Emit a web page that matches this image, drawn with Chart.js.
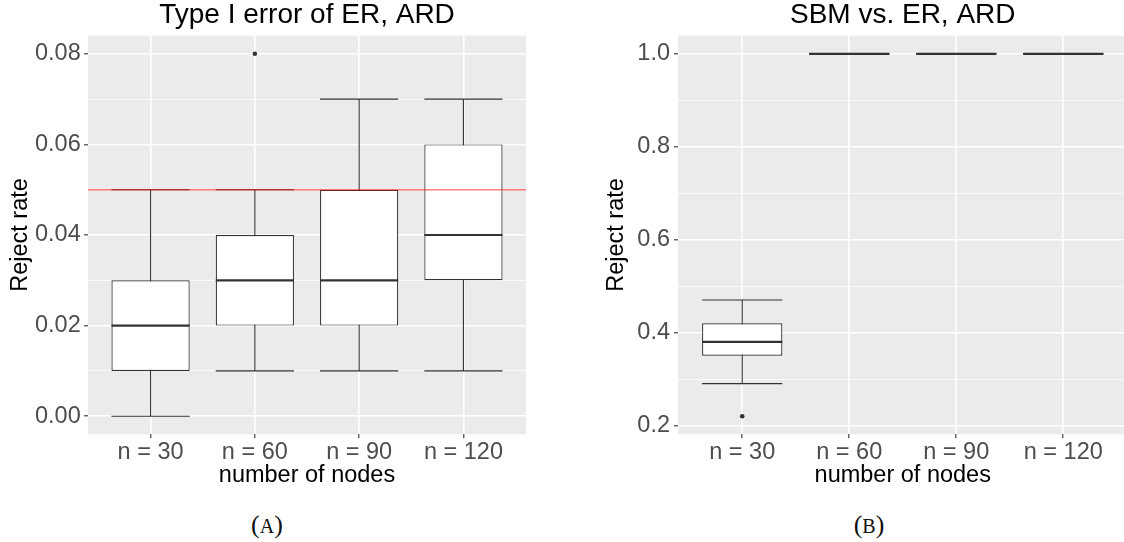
<!DOCTYPE html>
<html>
<head>
<meta charset="utf-8">
<script src="https://cdn.jsdelivr.net/npm/chart.js@4"></script>
<style>
  html, body { margin: 0; padding: 0; background: #fff; overflow: hidden; width: 1124px; height: 542px; }
  canvas { position: absolute; top: 0; }
  .cap { position: absolute; top: 512px; line-height: 25px; font-family: "Liberation Serif", "DejaVu Serif", serif; font-size: 26px; color: #111; transform: translateX(-50%); white-space: nowrap; }
  .cap span { font-size: 20px; }
</style>
</head>
<body>
<canvas id="chartA" width="560" height="500" style="left:0px"></canvas>
<canvas id="chartB" width="560" height="500" style="left:590px"></canvas>
<div class="cap" style="left:267px">(<span>A</span>)</div>
<div class="cap" style="left:869px">(<span>B</span>)</div>
<script>
// ---- shared categories ----
const nodeLabels = ["n = 30", "n = 60", "n = 90", "n = 120"];
const nodePos = [1, 2, 3, 4];

// ---- panel A: Type I error of ER, ARD ----
const typeILow = [0.00, 0.01, 0.01, 0.01];
const typeIQ1 = [0.01, 0.02, 0.02, 0.03];
const typeIMedian = [0.02, 0.03, 0.03, 0.04];
const typeIQ3 = [0.03, 0.04, 0.05, 0.06];
const typeIHigh = [0.05, 0.05, 0.07, 0.07];
const typeIOutlierGroup = [2];
const typeIOutlierValue = [0.08];
const typeILevel = 0.05;
const typeIMajorTicks = [0.00, 0.02, 0.04, 0.06, 0.08];
const typeIMinorTicks = [0.01, 0.03, 0.05, 0.07];
const typeITickLabels = ["0.00", "0.02", "0.04", "0.06", "0.08"];

// ---- panel B: SBM vs. ER, ARD ----
const powerLow = [0.29, 1.00, 1.00, 1.00];
const powerQ1 = [0.35, 1.00, 1.00, 1.00];
const powerMedian = [0.38, 1.00, 1.00, 1.00];
const powerQ3 = [0.42, 1.00, 1.00, 1.00];
const powerHigh = [0.47, 1.00, 1.00, 1.00];
const powerOutlierGroup = [1];
const powerOutlierValue = [0.22];
const powerMajorTicks = [0.2, 0.4, 0.6, 0.8, 1.0];
const powerMinorTicks = [0.3, 0.5, 0.7, 0.9];
const powerTickLabels = ["0.2", "0.4", "0.6", "0.8", "1.0"];

const sans = "'Liberation Sans', Arial, sans-serif";
const lineCol = "#333333";

// whiskers, medians, panel background and reference line
function boxLayer(stats) {
  return {
    id: "boxLayer",
    beforeDraw(chart) {
      const a = chart.chartArea, ctx = chart.ctx;
      ctx.save();
      ctx.fillStyle = "#EBEBEB";
      ctx.fillRect(a.left, a.top, a.right - a.left, a.bottom - a.top);
      ctx.restore();
    },
    beforeDatasetsDraw(chart) {
      const y = chart.scales.y, ctx = chart.ctx;
      const bars = chart.getDatasetMeta(0).data;
      ctx.save();
      ctx.strokeStyle = lineCol;
      ctx.lineWidth = 1.1;
      bars.forEach((bar, i) => {
        const lo = y.getPixelForValue(stats.low[i]);
        const hi = y.getPixelForValue(stats.high[i]);
        const half = bar.width / 2;
        ctx.beginPath();
        ctx.moveTo(bar.x, lo); ctx.lineTo(bar.x, hi);
        ctx.moveTo(bar.x - half, lo); ctx.lineTo(bar.x + half, lo);
        ctx.moveTo(bar.x - half, hi); ctx.lineTo(bar.x + half, hi);
        ctx.stroke();
      });
      ctx.restore();
    },
    afterDatasetsDraw(chart) {
      const y = chart.scales.y, ctx = chart.ctx, a = chart.chartArea;
      const bars = chart.getDatasetMeta(0).data;
      ctx.save();
      ctx.strokeStyle = lineCol;
      ctx.lineWidth = 2.2;
      bars.forEach((bar, i) => {
        const m = y.getPixelForValue(stats.median[i]);
        ctx.beginPath();
        ctx.moveTo(bar.x - bar.width / 2, m);
        ctx.lineTo(bar.x + bar.width / 2, m);
        ctx.stroke();
      });
      if (stats.ref !== null) {
        const r = y.getPixelForValue(stats.ref);
        ctx.strokeStyle = "rgba(255,0,0,0.5)";
        ctx.lineWidth = 1.4;
        ctx.beginPath();
        ctx.moveTo(a.left, r);
        ctx.lineTo(a.right, r);
        ctx.stroke();
      }
      ctx.restore();
    }
  };
}

function makeChart(id, s) {
  const all = s.low.concat(s.high, s.outVal);
  const lo = Math.min(...all), hi = Math.max(...all);
  const pad = (hi - lo) * 0.05;
  const yTicks = s.major.concat(s.minor).sort((a, b) => a - b);
  const isMajor = v => s.major.indexOf(v) >= 0;

  new Chart(document.getElementById(id), {
    type: "bar",
    data: {
      datasets: [
        {
          type: "bar",
          data: nodePos.map((p, i) => ({ x: p, y: [s.q1[i], s.q3[i]] })),
          backgroundColor: "#ffffff",
          borderColor: lineCol,
          borderWidth: 1.2,
          borderSkipped: false,
          categoryPercentage: 1,
          barPercentage: 0.75,
          order: 2
        },
        {
          type: "scatter",
          data: s.outGroup.map((g, i) => ({ x: g, y: s.outVal[i] })),
          backgroundColor: lineCol,
          borderWidth: 0,
          pointRadius: 2.3,
          order: 1
        }
      ]
    },
    options: {
      responsive: false,
      animation: false,
      layout: { padding: { left: 0, right: s.padRight, top: 0, bottom: 0 } },
      plugins: {
        legend: { display: false },
        tooltip: { enabled: false },
        title: {
          display: true,
          text: s.title,
          fullSize: false,
          color: "#000",
          font: { family: sans, size: 28, weight: "normal", lineHeight: 1.1 },
          padding: { top: 0, bottom: 4.9 }
        }
      },
      scales: {
        x: {
          type: "linear",
          offset: false,
          min: nodePos[0] - 0.6,
          max: nodePos[nodePos.length - 1] + 0.6,
          afterBuildTicks: sc => { sc.ticks = nodePos.map(v => ({ value: v })); },
          afterFit: sc => { sc.height = 65.7; sc.paddingLeft = 0; sc.paddingRight = 0; },
          border: { display: false },
          grid: {
            offset: false,
            color: "#ffffff",
            lineWidth: 1.6,
            drawTicks: true,
            tickLength: 4,
            tickColor: lineCol,
            tickWidth: 1.1
          },
          ticks: {
            autoSkip: false,
            maxRotation: 0,
            padding: 0,
            color: "#4D4D4D",
            font: { family: sans, size: 23.5 },
            callback: v => nodeLabels[nodePos.indexOf(v)]
          },
          title: {
            display: true,
            text: "number of nodes",
            color: "#000",
            font: { family: sans, size: 23.5 },
            padding: { top: 0, bottom: 9.9 }
          }
        },
        y: {
          type: "linear",
          min: lo - pad,
          max: hi + pad,
          afterBuildTicks: sc => { sc.ticks = yTicks.map(v => ({ value: v })); },
          afterFit: sc => { sc.width = 88; sc.paddingTop = 0; sc.paddingBottom = 0; },
          border: { display: false },
          grid: {
            color: "#ffffff",
            lineWidth: ctx => (ctx.tick && isMajor(ctx.tick.value)) ? 1.6 : 0.8,
            drawTicks: true,
            tickLength: 4,
            tickWidth: 1.1,
            tickColor: ctx => (ctx.tick && isMajor(ctx.tick.value)) ? lineCol : "rgba(0,0,0,0)"
          },
          ticks: {
            autoSkip: false,
            padding: s.tickPad,
            color: "#4D4D4D",
            font: { family: sans, size: 23.5 },
            callback: v => isMajor(v) ? s.labels[s.major.indexOf(v)] : ""
          },
          title: {
            display: true,
            text: "Reject rate",
            color: "#000",
            font: { family: sans, size: 23.5 },
            padding: { top: s.titlePad, bottom: 0 }
          }
        }
      }
    },
    plugins: [boxLayer({ low: s.low, high: s.high, median: s.median, ref: s.ref })]
  });
}

makeChart("chartA", {
  title: "Type I error of ER, ARD",
  low: typeILow, q1: typeIQ1, median: typeIMedian, q3: typeIQ3, high: typeIHigh,
  outGroup: typeIOutlierGroup, outVal: typeIOutlierValue, ref: typeILevel,
  major: typeIMajorTicks, minor: typeIMinorTicks, labels: typeITickLabels,
  padRight: 34, tickPad: 3.3, titlePad: 6.6
});

makeChart("chartB", {
  title: "SBM vs. ER, ARD",
  low: powerLow, q1: powerQ1, median: powerMedian, q3: powerQ3, high: powerHigh,
  outGroup: powerOutlierGroup, outVal: powerOutlierValue, ref: null,
  major: powerMajorTicks, minor: powerMinorTicks, labels: powerTickLabels,
  padRight: 22.5, tickPad: 4, titlePad: 12.6
});
</script>
</body>
</html>
